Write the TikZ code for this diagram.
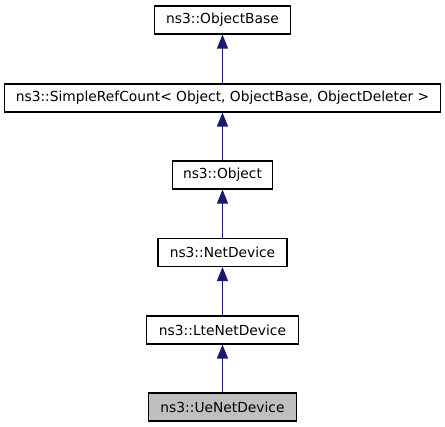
\documentclass[tikz,border=0pt]{standalone}
\usepackage{fontspec}
\setmainfont{DejaVu Sans}
\usetikzlibrary{arrows.meta}
\definecolor{edgeblue}{HTML}{191970}
\definecolor{boxgray}{HTML}{BFBFBF}
\begin{document}
\begin{tikzpicture}[x=1pt,y=-1pt,
  cls/.style={draw=black,line width=1.1pt,fill=white,minimum height=28pt,inner sep=0pt,
    font=\fontsize{13.8}{16}\selectfont,text=black},
  inh/.style={draw=edgeblue,line width=1.1pt,-{Triangle[length=14pt,width=11pt]}}]
\useasboundingbox (0,0) rectangle (445,427);
\node[cls,minimum width=136pt] (ob) at (222.5,20) {ns3::ObjectBase};
\node[cls,minimum width=436pt] (src) at (222.5,98) {ns3::SimpleRefCount< Object, ObjectBase, ObjectDeleter >};
\node[cls,minimum width=100pt] (obj) at (222.5,175) {ns3::Object};
\node[cls,minimum width=129pt] (nd) at (222.5,252.5) {ns3::NetDevice};
\node[cls,minimum width=152pt] (lte) at (222.5,330) {ns3::LteNetDevice};
\node[cls,minimum width=148pt,fill=boxgray] (ue) at (222.5,407) {ns3::UeNetDevice};
\draw[inh] (src.north) -- (ob.south);
\draw[inh] (obj.north) -- (src.south);
\draw[inh] (nd.north) -- (obj.south);
\draw[inh] (lte.north) -- (nd.south);
\draw[inh] (ue.north) -- (lte.south);
\end{tikzpicture}
\end{document}
